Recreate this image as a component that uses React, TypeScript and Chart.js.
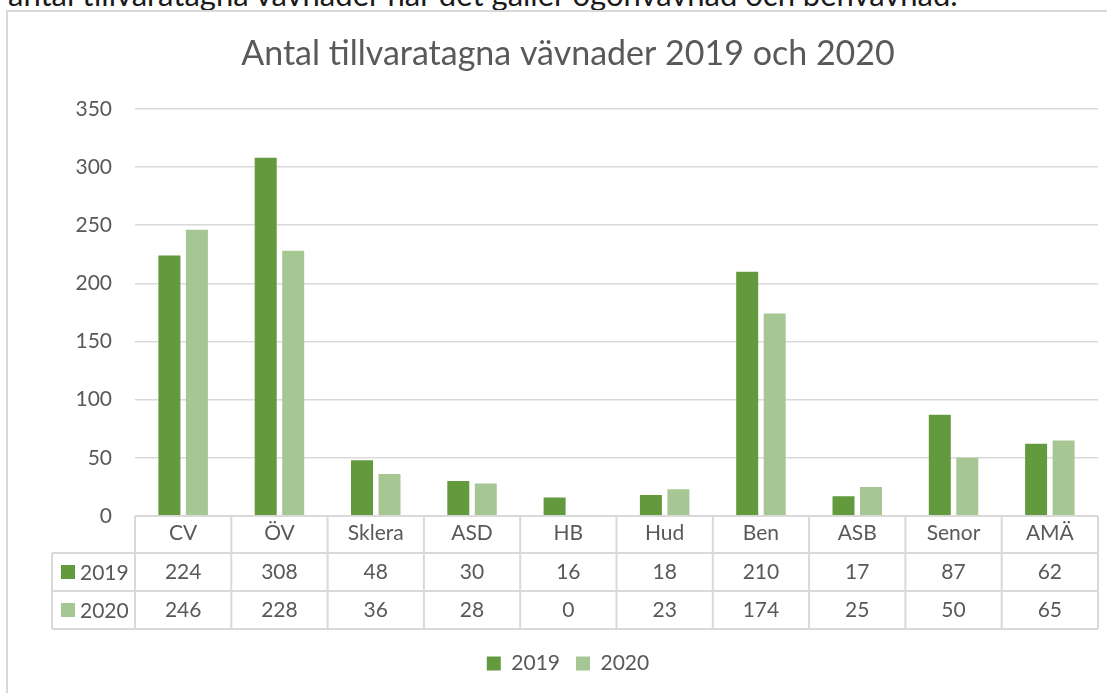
import React, { useEffect, useRef } from "react";
import { Chart, registerables } from "chart.js";

Chart.register(...registerables);

const introText = "antal tillvaratagna vävnader när det gäller ögonvävnad och benvävnad.";
const titleText = "Antal tillvaratagna vävnader 2019 och 2020";
const categories = ["CV", "ÖV", "Sklera", "ASD", "HB", "Hud", "Ben", "ASB", "Senor", "AMÄ"];
const seriesLabels = ["2019", "2020"];
const values2019 = [224, 308, 48, 30, 16, 18, 210, 17, 87, 62];
const values2020 = [246, 228, 36, 28, 0, 23, 174, 25, 50, 65];
const yMin = 0;
const yMax = 350;
const yStep = 50;

const FONT = "Lato, 'Open Sans', sans-serif";
const TEXT = "#595959";
const GRID = "#d9d9d9";
const DARK = "#629a3d";
const LIGHT = "#a6c793";
const CANVAS_W = 1136;
const CANVAS_H = 693;

const tablePlugin = {
  id: "dataTable",
  afterDraw(chart: any) {
    const { ctx, chartArea } = chart;
    const xs = chart.scales.x;
    const left = chartArea.left;
    const right = chartArea.right;
    const top = chartArea.bottom;
    const rows = [top, top + 37, top + 75, top + 113];
    const tableLeft = 52;
    const n = categories.length;
    ctx.save();
    ctx.strokeStyle = GRID;
    ctx.lineWidth = 2;
    ctx.beginPath();
    ctx.moveTo(left, rows[0]);
    ctx.lineTo(right, rows[0]);
    for (let r = 1; r < rows.length; r++) {
      ctx.moveTo(tableLeft, rows[r]);
      ctx.lineTo(right, rows[r]);
    }
    for (let i = 0; i <= n; i++) {
      const x = left + ((right - left) * i) / n;
      ctx.moveTo(x, rows[0]);
      ctx.lineTo(x, rows[3]);
    }
    ctx.moveTo(tableLeft, rows[1]);
    ctx.lineTo(tableLeft, rows[3]);
    ctx.stroke();

    ctx.font = `21px ${FONT}`;
    ctx.textBaseline = "middle";
    chart.data.datasets.forEach((ds: any, d: number) => {
      const cy = (rows[d + 1] + rows[d + 2]) / 2;
      ctx.textAlign = "center";
      ctx.fillStyle = TEXT;
      ds.data.forEach((v: number, i: number) => {
        ctx.fillText(String(v), xs.getPixelForValue(i), cy);
      });
      ctx.fillStyle = ds.backgroundColor;
      ctx.fillRect(61, cy - 7, 14, 14);
      ctx.fillStyle = TEXT;
      ctx.textAlign = "left";
      ctx.fillText(ds.label, 80, cy + 1);
    });
    ctx.restore();
  },
};

export default function App() {
  const ref = useRef<HTMLCanvasElement | null>(null);
  useEffect(() => {
    if (!ref.current) return;
    const chart = new Chart(ref.current, {
      type: "bar",
      data: {
        labels: categories,
        datasets: [
          { label: seriesLabels[0], data: values2019, backgroundColor: DARK },
          { label: seriesLabels[1], data: values2020, backgroundColor: LIGHT },
        ],
      },
      options: {
        responsive: false,
        animation: false,
        datasets: { bar: { categoryPercentage: 0.571, barPercentage: 0.8 } },
        layout: { padding: { left: 0, right: 0, top: 0, bottom: 9 } },
        plugins: {
          title: {
            display: true,
            text: titleText,
            color: TEXT,
            font: { family: FONT, size: 34, weight: "normal" },
            padding: { top: 34, bottom: 34 },
          },
          legend: {
            display: true,
            position: "bottom",
            labels: {
              color: TEXT,
              font: { family: FONT, size: 21 },
              boxWidth: 14,
              boxHeight: 14,
              padding: 16,
            },
          },
          tooltip: { enabled: false },
        },
        scales: {
          x: {
            grid: { display: false },
            border: { display: false },
            ticks: { color: TEXT, font: { family: FONT, size: 21 }, padding: -3, maxRotation: 0, autoSkip: false },
            afterFit: (scale: any) => {
              scale.height = 121;
            },
          },
          y: {
            min: yMin,
            max: yMax,
            grid: { color: GRID, lineWidth: 1.5, drawTicks: false },
            border: { display: false },
            ticks: { stepSize: yStep, color: TEXT, font: { family: FONT, size: 21 }, padding: 23 },
            afterFit: (scale: any) => {
              scale.width = 135;
            },
          },
          yRight: {
            position: "right",
            min: yMin,
            max: yMax,
            grid: { display: false },
            border: { display: false },
            ticks: { display: false },
            afterFit: (scale: any) => {
              scale.width = CANVAS_W - 1098;
            },
          },
        },
      },
      plugins: [tablePlugin],
    });
    return () => chart.destroy();
  }, []);

  return (
    <div style={{ position: "fixed", left: 0, top: 0, width: 1107, height: 693, overflow: "hidden", background: "#fff" }}>
      <div
        style={{
          position: "absolute",
          left: 8,
          top: -21,
          fontFamily: FONT,
          fontSize: 31,
          lineHeight: 1,
          color: "#1a1a1a",
          whiteSpace: "nowrap",
        }}
      >
        {introText}
      </div>
      <div
        style={{
          position: "absolute",
          left: 6,
          top: 10,
          width: 1200,
          height: 800,
          border: `2px solid ${GRID}`,
          boxSizing: "border-box",
        }}
      />
      <canvas
        ref={ref}
        width={CANVAS_W}
        height={CANVAS_H}
        style={{ position: "absolute", left: 0, top: 0, width: CANVAS_W, height: CANVAS_H }}
      />
    </div>
  );
}
